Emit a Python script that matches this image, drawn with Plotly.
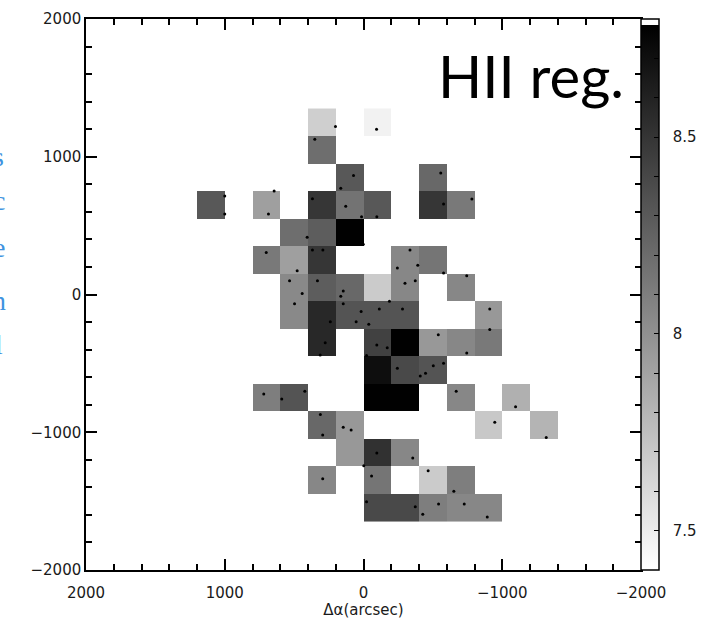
import numpy as np
import plotly.graph_objects as go

# ---- data ----
# binned map cells (centre of each 200"x200" bin) and their values
cell_x = [300, -100,
          300,
          100, -500,
          1100, 700, 300, 100, -100, -500, -700,
          500, 300, 100,
          700, 500, 300, -300, -500,
          500, 300, 100, -100, -300, -700,
          500, 300, 100, -100, -300, -900,
          300, -100, -300, -500, -700, -900,
          -100, -300, -500,
          700, 500, -100, -300, -700, -1100,
          300, 100, -900, -1300,
          100, -100, -300,
          300, -100, -500, -700,
          -100, -300, -500, -700, -900]
cell_y = [1250, 1250,
          1050,
          850, 850,
          650, 650, 650, 650, 650, 650, 650,
          450, 450, 450,
          250, 250, 250, 250, 250,
          50, 50, 50, 50, 50, 50,
          -150, -150, -150, -150, -150, -150,
          -350, -350, -350, -350, -350, -350,
          -550, -550, -550,
          -750, -750, -750, -750, -750, -750,
          -950, -950, -950, -950,
          -1150, -1150, -1150,
          -1350, -1350, -1350, -1350,
          -1550, -1550, -1550, -1550, -1550]
cell_val = [7.66, 7.47,
            8.19,
            8.31, 8.22,
            8.31, 7.92, 8.49, 8.16, 8.31, 8.49, 8.13,
            8.19, 8.28, 8.78,
            8.13, 7.92, 8.49, 8.05, 8.15,
            8.04, 8.28, 8.22, 7.68, 8.05, 8.05,
            8.04, 8.57, 8.33, 8.33, 8.33, 7.96,
            8.57, 8.43, 8.78, 7.96, 8.05, 8.13,
            8.71, 8.39, 8.33,
            8.10, 8.33, 8.78, 8.78, 8.05, 7.83,
            8.22, 7.96, 7.70, 7.81,
            7.96, 8.52, 8.05,
            8.05, 8.15, 7.68, 8.10,
            8.39, 8.39, 8.10, 8.05, 8.05]

# individual HII regions (dots)
dot_x = [202, 351, 72, 164, 1000, 1000, 644, 685, 368, 128,
         14, -96, -94, -557, -577, -781, 406, 2, 701, 368,
         293, 478, -335, -391, -244, -577, -744, 533, 332, 442,
         146, 164, -299, -373, -187, 497, 146, 17, -114, -281,
         239, 53, -38, -910, -910, -539, 276, 312, -22, -96,
         -171, -244, -744, -577, -503, -447, -409, 719, 589, 423,
         -668, -1096, 311, 294, 146, 89, -946, -1317, -96, -2,
         -355, 294, -58, -466, -651, -22, -373, -427, -541, -726,
         -892]
dot_y = [1219, 1127, 863, 771, 715, 585, 752, 585, 696, 641,
         565, 565, 1200, 882, 657, 694, 416, 365, 305, 323,
         323, 173, 323, 212, 192, 156, 137, 100, 100, 7,
         25, -12, 81, 100, -49, -68, -68, -123, -105, -105,
         -198, -198, -216, -105, -254, -293, -350, -439, -443, -367,
         -386, -536, -425, -499, -517, -572, -592, -723, -759, -703,
         -703, -815, -871, -1020, -964, -983, -927, -1038, -1151, -1243,
         -1187, -1338, -1317, -1280, -1429, -1505, -1541, -1596, -1521, -1521,
         -1616]

axis_ticks = [-2000, -1000, 0, 1000, 2000]
cbar_ticks = [round(7.4 + 0.1 * i, 1) for i in range(15)]
cbar_labels = {7.5: "7.5", 8.0: "8", 8.5: "8.5"}
z_min, z_max = 7.4, 8.8

# ---- build the grid ----
bin_size = 200
grid_x = np.arange(min(cell_x), max(cell_x) + bin_size, bin_size)
grid_y = np.arange(min(cell_y), max(cell_y) + bin_size, bin_size)
z = np.full((len(grid_y), len(grid_x)), np.nan)
for cx, cy, v in zip(cell_x, cell_y, cell_val):
    z[int(round((cy - grid_y[0]) / bin_size)), int(round((cx - grid_x[0]) / bin_size))] = v

tick_font = dict(family="DejaVu Sans", size=15, color="#1a1a1a")
NB = "\u00a0"

fig = go.Figure()
fig.add_trace(go.Heatmap(
    x=grid_x, y=grid_y, z=z, zmin=z_min, zmax=z_max,
    colorscale=[[0, "#ffffff"], [0.99, "#000000"], [0.99, "#ffffff"], [1, "#ffffff"]],
    hoverongaps=False,
    colorbar=dict(
        x=1.0, xanchor="left", xref="paper", xpad=0,
        y=0.5, yanchor="middle", len=1, lenmode="fraction", ypad=0,
        thickness=18, outlinewidth=1.5, outlinecolor="black",
        tickvals=cbar_ticks,
        ticktext=[(NB * 2 + cbar_labels[t]) if t in cbar_labels else "" for t in cbar_ticks],
        ticks="inside", ticklen=5, tickwidth=1.2, tickcolor="black",
        tickfont=tick_font,
    ),
))
fig.add_trace(go.Scatter(
    x=dot_x, y=dot_y, mode="markers",
    marker=dict(color="black", size=3, line=dict(width=0)),
    showlegend=False, hoverinfo="skip",
))

axis_common = dict(
    showgrid=False, zeroline=False,
    showline=True, linecolor="black", linewidth=1.5, mirror="ticks",
    ticks="inside", ticklen=11, tickwidth=1.5, tickcolor="black",
    minor=dict(dtick=200, ticks="inside", ticklen=6, tickwidth=1.5,
               tickcolor="black", showgrid=False),
    tickvals=axis_ticks, tickfont=tick_font,
)
fig.update_layout(
    width=708, height=619,
    margin=dict(l=86, r=67, t=19, b=49, autoexpand=False),
    paper_bgcolor="white", plot_bgcolor="white",
    showlegend=False,
    xaxis=dict(range=[2000, -2000], ticklabelstandoff=8, **axis_common,
               title=dict(text="Δα(arcsec)", standoff=0,
                          font=dict(family="DejaVu Sans", size=15, color="#1a1a1a"))),
    yaxis=dict(range=[-2000, 2000], ticklabelstandoff=0, **axis_common),
)

fig.add_annotation(
    text="HII reg.", xref="paper", yref="paper", x=0.973, y=0.898,
    xanchor="right", yanchor="middle", showarrow=False,
    font=dict(family="Lato", size=58, color="black"),
)

# cropped fragments of neighbouring slide text at the left edge
frag_letters = ["s", "c", "e", "n", "l"]
frag_rows = [0.75, 0.67, 0.585, 0.49, 0.41]
for ch, fy in zip(frag_letters, frag_rows):
    fig.add_annotation(
        text=ch, xref="paper", yref="paper", x=-0.157, y=fy,
        xanchor="center", yanchor="middle", showarrow=False,
        font=dict(family="Liberation Serif", size=28, color="#3f93e0"),
    )

fig.write_html("out.html")
